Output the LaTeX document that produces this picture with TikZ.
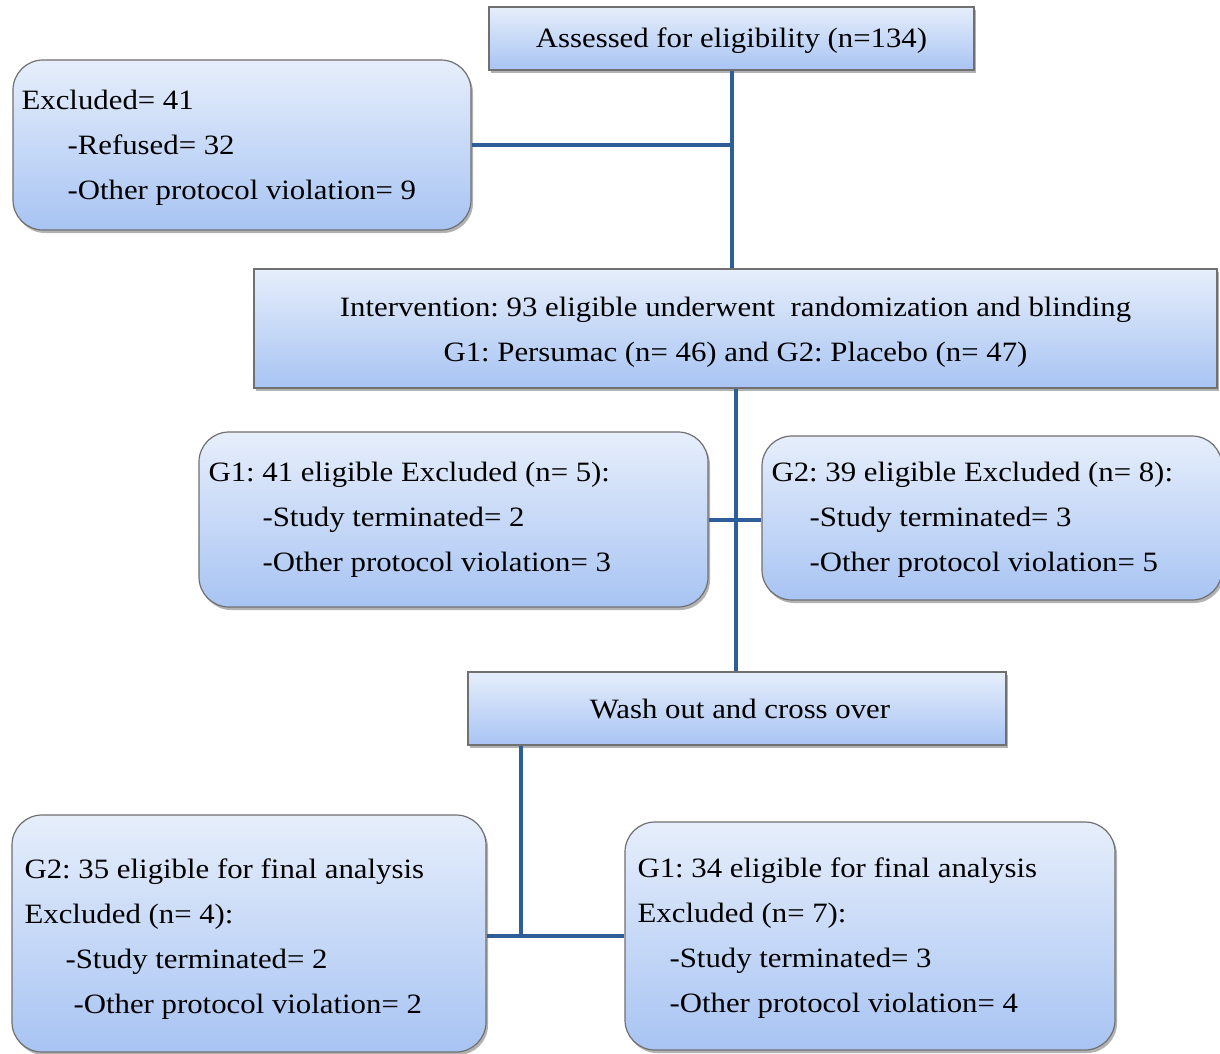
\documentclass[tikz,border=0pt]{standalone}
\usepackage{fontspec}
\setmainfont{Liberation Serif}[FakeStretch=1.1]
\usetikzlibrary{shadows,calc}
\frenchspacing
\definecolor{boxtop}{HTML}{E6EEFB}
\definecolor{boxbot}{HTML}{A8C4F3}
\definecolor{boxline}{HTML}{707070}
\definecolor{conn}{HTML}{2E5E97}
\tikzset{
  basebox/.style={draw=boxline, line width=1.2pt, top color=boxtop, bottom color=boxbot,
    drop shadow={shadow xshift=2pt, shadow yshift=-3pt, fill=black, opacity=0.3},
    inner sep=0pt},
  sqbox/.style={basebox},
  rbox/.style={basebox, rounded corners=30pt},
  txt/.style={font=\fontsize{28}{45}\selectfont, inner sep=0pt, align=left},
  ctxt/.style={font=\fontsize{28}{45}\selectfont, inner sep=0pt, align=center},
  link/.style={draw=conn, line width=4pt}
}
\begin{document}
\begin{tikzpicture}[x=1pt,y=-1pt]
\useasboundingbox (0,0) rectangle (1220,1053);
\clip (0,0) rectangle (1220,1053);
\fill[white] (0,0) rectangle (1220,1053);

% boxes
\node[sqbox, minimum width=485pt, minimum height=63pt] (assess) at (731.5,38.5) {};
\node[rbox, minimum width=458pt, minimum height=170pt] (excl) at (242,145) {};
\node[sqbox, minimum width=963pt, minimum height=119pt] (interv) at (735.5,328.5) {};
\node[rbox, minimum width=509pt, minimum height=175pt] (g1) at (453.5,519.5) {};
\node[rbox, minimum width=460pt, minimum height=164pt] (g2) at (992,518) {};
\node[sqbox, minimum width=538pt, minimum height=73pt] (wash) at (737,708.5) {};
\node[rbox, minimum width=474pt, minimum height=237pt] (g2f) at (249,933.5) {};
\node[rbox, minimum width=490pt, minimum height=228pt] (g1f) at (870,936) {};

% texts
\node[ctxt] (assess-t) at ($(assess.center)+(0,2)$) {Assessed for eligibility (n=134)};
\node[txt, anchor=west] (excl-t) at ($(excl.west)+(9,3)$)
  {Excluded= 41\\ \hspace*{46pt}-Refused= 32\\ \hspace*{46pt}-Other protocol violation= 9};
\node[ctxt] (interv-t) at ($(interv.center)+(0,4)$)
  {Intervention: 93 eligible underwent\ \ randomization and blinding\\ G1: Persumac (n= 46) and G2: Placebo (n= 47)};
\node[txt, anchor=west] (g1-t) at ($(g1.west)+(10,0)$)
  {G1: 41 eligible Excluded (n= 5):\\ \hspace*{54pt}-Study terminated= 2\\ \hspace*{54pt}-Other protocol violation= 3};
\node[txt, anchor=west] (g2-t) at ($(g2.west)+(10,2)$)
  {G2: 39 eligible Excluded (n= 8):\\ \hspace*{38pt}-Study terminated= 3\\ \hspace*{38pt}-Other protocol violation= 5};
\node[ctxt] (wash-t) at ($(wash.center)+(3,0)$) {Wash out and cross over};
\node[txt, anchor=west] (g2f-t) at ($(g2f.west)+(13,6)$)
  {G2: 35 eligible for final analysis\\ Excluded (n= 4):\\ \hspace*{41pt}-Study terminated= 2\\ \hspace*{49pt}-Other protocol violation= 2};
\node[txt, anchor=west] (g1f-t) at ($(g1f.west)+(13,2)$)
  {G1: 34 eligible for final analysis\\ Excluded (n= 7):\\ \hspace*{32pt}-Study terminated= 3\\ \hspace*{32pt}-Other protocol violation= 4};

% connectors
\draw[link] (assess.south) -- (assess.south |- interv.north);
\draw[link] (excl.east) -- (excl.east -| assess.south);
\draw[link] (interv.south) -- (interv.south |- wash.north);
\draw[link] (g1.east) -- (g1.east -| g2.west);
\coordinate (wdown) at ([xshift=54pt]wash.south west);
\draw[link] (wdown) -- (wdown |- g1f.west);
\draw[link] (g2f.east |- g1f.west) -- (g1f.west);
\end{tikzpicture}
\end{document}
